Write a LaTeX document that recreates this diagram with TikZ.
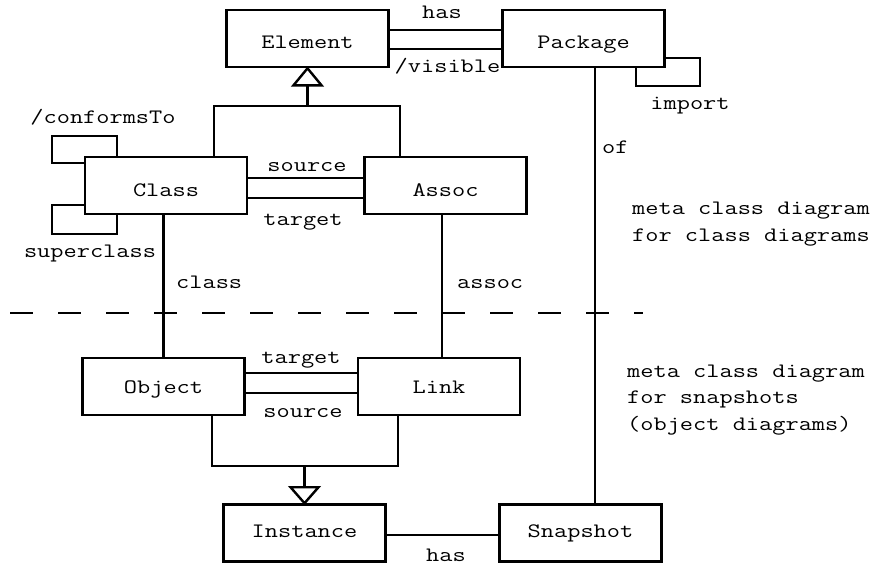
\documentclass[tikz,border=0pt]{standalone}
\usepackage{fontspec}
\setmonofont[FakeStretch=1.25]{Latin Modern Mono}
\begin{document}
\begin{tikzpicture}[x=1pt,y=-1pt,
  every node/.style={font=\ttfamily\fontsize{20.5}{26.5}\selectfont},
  umlbox/.style={draw, line width=2.6pt, minimum width=162pt, minimum height=57pt, inner sep=0pt, text height=#1, text depth=0pt},
  umlbox/.default=19pt,
  conn/.style={line width=2.4pt},
  lbl/.style={inner sep=0pt, anchor=base},
  lbll/.style={inner sep=0pt, anchor=base west, align=left}]
\useasboundingbox (0,0) rectangle (872,565);
% boxes
\node[umlbox=19pt] (Element)  at (307.5,38.5) {Element};
\node[umlbox=19pt] (Package)  at (583.5,38.5) {Package};
\node[umlbox=22pt] (Class)    at (166,185.5)  {Class};
\node[umlbox=22pt] (Assoc)    at (445.5,185.5){Assoc};
\node[umlbox=13pt] (Object)   at (163.5,386.5){Object};
\node[umlbox=13pt] (Link)     at (439,386.5)  {Link};
\node[umlbox=9pt] (Instance) at (304.5,533)  {Instance};
\node[umlbox=9pt] (Snapshot) at (580.5,533)  {Snapshot};
% Element -- Package
\draw[conn] (Element.east |- 0,30) -- (Package.west |- 0,30);
\draw[conn] (Element.east |- 0,49) -- (Package.west |- 0,49);
\node[lbl] (lhas) at (442,18) {has};
\node[lbl] (lvis) at (447.5,72) {/visible};
% import loop
\coordinate (imp1) at (700,58);
\coordinate (imp2) at (700,86);
\coordinate (imp3) at (636,86);
\draw[conn] (Package.east |- imp1) -- (imp1) -- (imp2) -- (imp3) -- (imp3 |- Package.south);
\node[lbl] (limp) at (690,109) {import};
% generalization to Element
\coordinate (gtop) at (307.5,85);
\coordinate (gbar) at (307.5,106);
\draw[conn, line join=miter] (Element.south) -- ++(-14,17) -- ++(28,0) -- cycle;
\draw[conn] (gtop) -- (gbar);
\draw[conn] (Class.north -| 214,0) -- (214,106) -- (400,106) -- (Assoc.north -| 400,0);
% Class self loops
\coordinate (c1) at (52,163);
\coordinate (c2) at (52,136);
\coordinate (c3) at (117,136);
\draw[conn] (Class.west |- c1) -- (c1) -- (c2) -- (c3) -- (c3 |- Class.north);
\coordinate (d1) at (52,205);
\coordinate (d2) at (52,234);
\coordinate (d3) at (117,234);
\draw[conn] (Class.west |- d1) -- (d1) -- (d2) -- (d3) -- (d3 |- Class.south);
\node[lbl] (lconf) at (103,123) {/conformsTo};
\node[lbl] (lsup) at (90,257) {superclass};
% Class -- Assoc
\draw[conn] (Class.east |- 0,178) -- (Assoc.west |- 0,178);
\draw[conn] (Class.east |- 0,198) -- (Assoc.west |- 0,198);
\node[lbl] (lsrc1) at (307,171) {source};
\node[lbl] (ltgt1) at (303,225) {target};
% Class -- Object, Assoc -- Link
\draw[conn] (Object.north) -- (Object.north |- Class.south);
\draw[conn] (Assoc.south -| 442,0) -- (Link.north -| 442,0);
\node[lbll] (lclass) at (176,288) {class};
\node[lbll] (lassoc) at (457,288) {assoc};
% Package -- Snapshot
\draw[conn] (Package.south -| 595,0) -- (Snapshot.north -| 595,0);
\node[lbll] (lof) at (602,153) {of};
% dashed separator
\coordinate (ds) at (10,313);
\coordinate (de) at (643,313);
\draw[line width=2.4pt, dash pattern=on 23pt off 25pt] (ds) -- (de);
% Object -- Link
\draw[conn] (Object.east |- 0,373) -- (Link.west |- 0,373);
\draw[conn] (Object.east |- 0,393) -- (Link.west |- 0,393);
\node[lbl] (ltgt2) at (301,363) {target};
\node[lbl] (lsrc2) at (303,417) {source};
% generalization to Instance
\draw[conn, line join=miter] (Instance.north) -- ++(-14,-16) -- ++(28,0) -- cycle;
\draw[conn] (304.5,488) -- (304.5,466);
\draw[conn] (Object.south -| 212,0) -- (212,466) -- (398,466) -- (Link.south -| 398,0);
% Instance -- Snapshot
\draw[conn] (Instance.east |- 0,535) -- (Snapshot.west |- 0,535);
\node[lbl] (lhas2) at (446,561) {has};
% side texts
\node[lbll] (t1) at (632,241) {meta class diagram\\for class diagrams};
\node[lbll] (t2) at (627,430) {meta class diagram\\for snapshots\\(object diagrams)};
\end{tikzpicture}
\end{document}
